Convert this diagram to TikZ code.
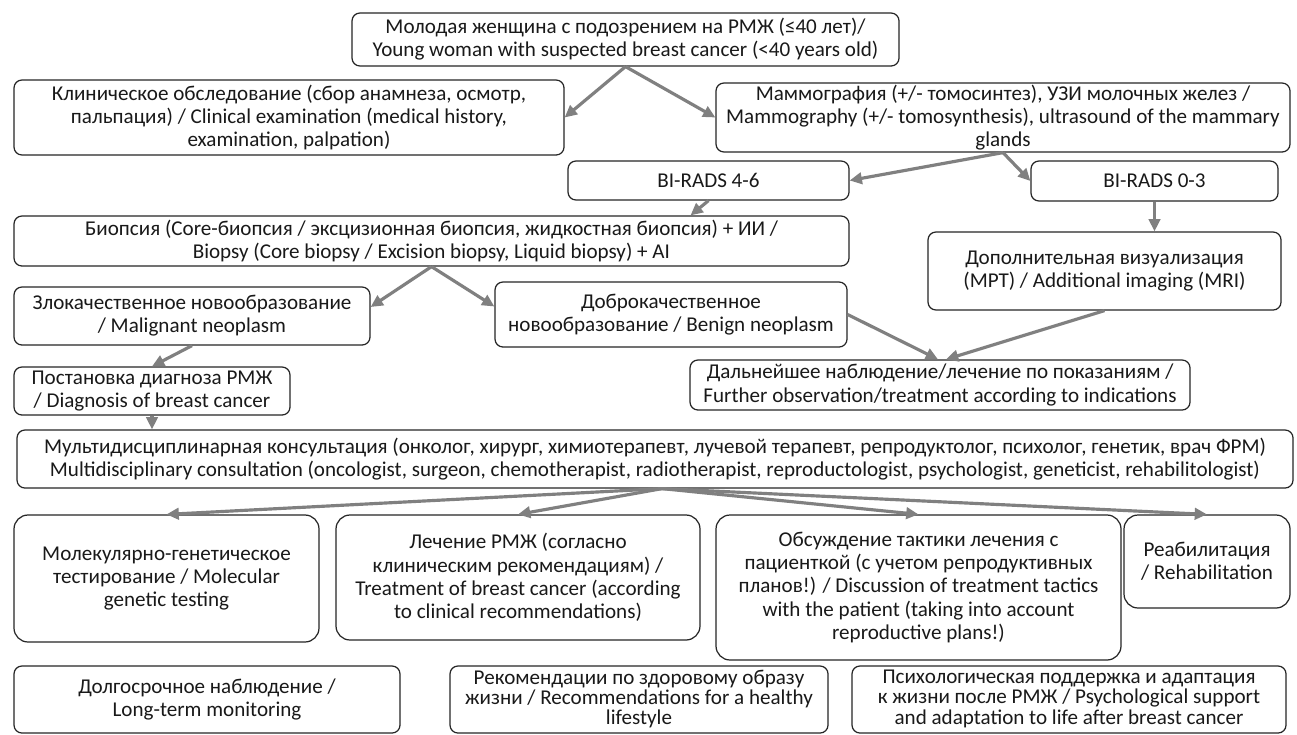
\documentclass[tikz,border=0pt]{standalone}
\usepackage{fontspec}
\setmainfont{Carlito}
\usetikzlibrary{arrows.meta, calc}

\begin{document}
\begin{tikzpicture}[x=0.02cm, y=-0.02cm,
  box/.style={draw=black!85, line width=0.7pt, rounded corners=4.5pt, align=center,
              inner sep=1pt, text=black!90, font=\fontsize{12}{13.2}\selectfont},
  bigbox/.style={box, rounded corners=8pt},
  arr/.style={draw=black!50, line width=1.8pt, -{Triangle[length=7pt,width=6.5pt]}}]

\fill[white] (0,0) rectangle (1297,734);
\useasboundingbox (0,0) rectangle (1297,734);

% top of the pathway
\node[box, minimum width=547*0.02cm, minimum height=53*0.02cm] (young) at (625.5,39.5)
  {Молодая женщина с подозрением на РМЖ (≤40 лет)/\\Young woman with suspected breast cancer (<40 years old)};
\node[box, minimum width=550*0.02cm, minimum height=75*0.02cm] (clinic) at (289,117.5)
  {Клиническое обследование (сбор анамнеза, осмотр,\\пальпация) / Clinical examination (medical history,\\examination, palpation)};
\node[box, minimum width=574*0.02cm, minimum height=69*0.02cm] (mammo) at (1003,117.5)
  {Маммография (+/- томосинтез), УЗИ молочных желез /\\Mammography (+/- tomosynthesis), ultrasound of the mammary\\glands};
\node[box, minimum width=281*0.02cm, minimum height=39*0.02cm] (birads46) at (708.5,180.5) {BI-RADS 4-6};
\node[box, minimum width=247*0.02cm, minimum height=40*0.02cm] (birads03) at (1154.5,181) {BI-RADS 0-3};

% biopsy branch
\node[box, minimum width=835*0.02cm, minimum height=50*0.02cm] (biopsy) at (431.5,241)
  {Биопсия (Core-биопсия / эксцизионная биопсия, жидкостная биопсия) + ИИ /\\Biopsy (Core biopsy / Excision biopsy, Liquid biopsy) + AI};
\node[box, minimum width=353*0.02cm, minimum height=78*0.02cm] (mri) at (1104.5,271)
  {Дополнительная визуализация\\(МРТ) / Additional imaging (MRI)};
\node[box, minimum width=356*0.02cm, minimum height=58*0.02cm] (malign) at (192,316)
  {Злокачественное новообразование\\/ Malignant neoplasm};
\node[box, minimum width=352*0.02cm, minimum height=65*0.02cm] (benign) at (671,314.5)
  {Доброкачественное\\новообразование / Benign neoplasm};
\node[box, minimum width=276*0.02cm, minimum height=48*0.02cm] (diagn) at (152,391)
  {Постановка диагноза РМЖ\\/ Diagnosis of breast cancer};
\node[box, minimum width=500*0.02cm, minimum height=50*0.02cm] (follow) at (940,385)
  {Дальнейшее наблюдение/лечение по показаниям /\\Further observation/treatment according to indications};

% consultation and what follows
\node[box, minimum width=1276*0.02cm, minimum height=58*0.02cm] (mdt) at (655,459)
  {Мультидисциплинарная консультация (онколог, хирург, химиотерапевт, лучевой терапевт, репродуктолог, психолог, генетик, врач ФРМ)\\Multidisciplinary consultation (oncologist, surgeon, chemotherapist, radiotherapist, reproductologist, psychologist, geneticist, rehabilitologist)};
\node[bigbox, minimum width=305*0.02cm, minimum height=127*0.02cm] (genetic) at (166.5,578.5)
  {Молекулярно-генетическое\\тестирование / Molecular\\genetic testing};
\node[bigbox, minimum width=364*0.02cm, minimum height=125*0.02cm] (treat) at (518,577.5)
  {Лечение РМЖ (согласно\\клиническим рекомендациям) /\\Treatment of breast cancer (according\\to clinical recommendations)};
\node[bigbox, minimum width=405*0.02cm, minimum height=145*0.02cm] (tactics) at (918.5,587.5)
  {Обсуждение тактики лечения с\\пациенткой (с учетом репродуктивных\\планов!) / Discussion of treatment tactics\\with the patient (taking into account\\reproductive plans!)};
\node[bigbox, minimum width=166*0.02cm, minimum height=93*0.02cm] (rehab) at (1207,561.5)
  {Реабилитация\\/ Rehabilitation};

% bottom row, down to the page edge
\node[box, minimum width=386*0.02cm, minimum height=67*0.02cm] (monitor) at (207,699.5)
  {Долгосрочное наблюдение /\\Long-term monitoring};
\node[box, minimum width=378*0.02cm, minimum height=67*0.02cm] (lifebox) at (639,699.5) {};
\node[box, draw=none, anchor=north, font=\fontsize{12}{11.6}\selectfont] (lifetext) at ($(lifebox.north)+(0,2)$)
  {Рекомендации по здоровому образу\\жизни / Recommendations for a healthy\\lifestyle};
\node[box, minimum width=434*0.02cm, minimum height=67*0.02cm] (psychbox) at (1069,699.5) {};
\node[box, draw=none, anchor=north, font=\fontsize{12}{11.6}\selectfont] (psychtext) at ($(psychbox.north)+(0,2)$)
  {Психологическая поддержка и адаптация\\к жизни после РМЖ / Psychological support\\and adaptation to life after breast cancer};

% arrows
\draw[arr] (young.south) -- (clinic.east);
\draw[arr] (young.south) -- (mammo.west);
\draw[arr] (mammo.south) -- (birads46.east);
\draw[arr] (mammo.south) -- (birads03.west);
\draw[arr] (birads03.south) -- (birads03.south |- mri.north);
\draw[arr] (birads46.south) -- ($(birads46.south |- biopsy.north)+(-18,0)$);
\draw[arr] (biopsy.south) -- ($(malign.east)+(0,-9)$);
\draw[arr] (biopsy.south) -- ($(benign.west)+(0,-8)$);
\draw[arr] (malign.south) -- (diagn.north);
\draw[arr] (benign.east) -- ($(follow.north)+(-2,0)$);
\draw[arr] (mri.south) -- ($(follow.north)+(6,0)$);
\draw[arr] (diagn.south) -- (diagn.south |- mdt.north);
\foreach \n in {genetic,treat,tactics,rehab}
  \draw[arr] ($(mdt.south)+(7,0)$) -- (\n.north);
\end{tikzpicture}
\end{document}
